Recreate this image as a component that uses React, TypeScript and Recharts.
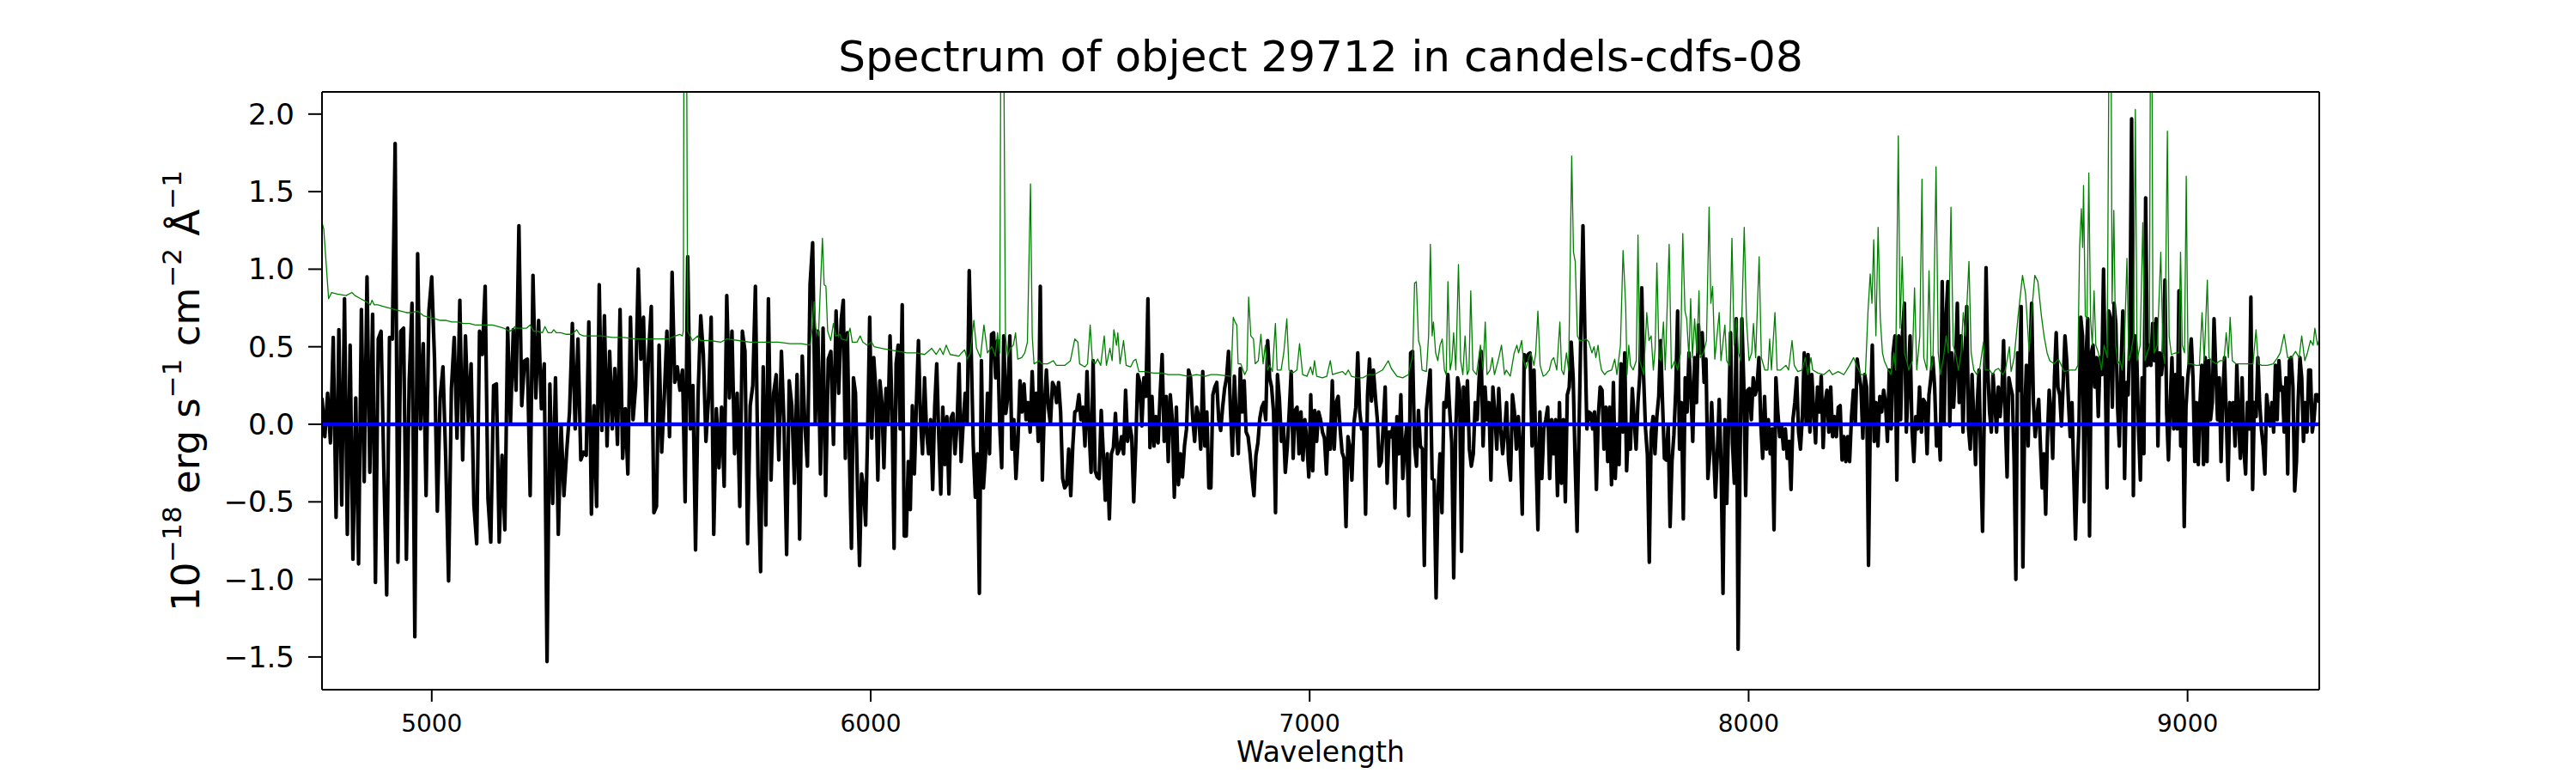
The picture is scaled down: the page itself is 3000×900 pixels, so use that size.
import React from 'react';
import { LineChart, Line, XAxis, YAxis, ReferenceLine } from 'recharts';

const FONT = '"DejaVu Sans", "Liberation Sans", sans-serif';
const CHART_W = 3000;
const CHART_H = 900;
const PLOT_LEFT = 375;
const PLOT_TOP = 107;
const PLOT_RIGHT = 2701;
const PLOT_BOTTOM = 803;
const PLOT_CX = (PLOT_LEFT + PLOT_RIGHT) / 2;
const PLOT_CY = (PLOT_TOP + PLOT_BOTTOM) / 2;

const TITLE = 'Spectrum of object 29712 in candels-cdfs-08';
const X_LABEL = 'Wavelength';
const X_DOMAIN = [4750, 9300];
const Y_DOMAIN = [-1.711, 2.143];
const X_TICKS = [5000, 6000, 7000, 8000, 9000];
const Y_TICKS = [-1.5, -1, -0.5, 0, 0.5, 1, 1.5, 2];
const ZERO_LEVEL = 0;

// Flux (black), read segment by segment, evenly sampled within each wavelength range
const FLUX_4750_5346 = [
  0.17, -0.08, 0.2, -0.12, 0.56, -0.6, 0.61, -0.52, 0.81, -0.71, 0.51, -0.87, 0.17, -0.9, 0.74, -0.37, 0.95, -0.31, 0.71, -1.02,
  0.55, 0.6, -0.31, -1.1, 0.56, 0.55, 1.81, -0.89, 0.6, 0.62, -0.87, 0.28, 0.78, -1.37, 1.1, -0.03, 0.52, -0.46, 0.73, 0.95,
  0.42, -0.56, 0.17, 0.37, -0.23, -1.01, 0.23, 0.56, -0.09, 0.8, -0.23, 0.57, 0.02, 0.39, -0.52, -0.77, 0.6, 0.45, 0.89, -0.48,
  -0.76, 0.25, 0.26, -0.76, -0.2, -0.68, 0.62, 0, 0.61, 0.22, 1.28, 0.12, 0.41, 0.42, -0.46, 0.96, 0.17, 0.67, 0.1, 0.39,
  -1.53, 0.26, -0.51, 0.3, -0.71, 0, -0.46, -0.17, 0.08, 0.65, -0.03, 0.55, -0.23,
];
const FLUX_5346_5933 = [
  -0.18, -0.2, 0.66, -0.58, 0.12, -0.53, 0.9, -0.04, 0.7, -0.14, 0.47, -0.03, 0.36, -0.13, 0.74, -0.22, 0.1, -0.32, 0.69, 0.03,
  0.25, 1.0, 0.42, 0.69, 0, 0.47, 0.76, -0.57, -0.53, 0.51, -0.18, 0.18, 0.6, -0.08, 0.98, 0.27, 0.37, 0.22, 0.35, -0.5,
  1.08, -0.03, 0.25, -0.81, 0.2, 0.7, 0.45, -0.11, 0.17, 0.69, -0.71, 0.1, -0.28, 0.11, -0.4, 0.83, 0.17, 0.6, -0.19, 0.2,
  -0.53, 0.6, 0.47, -0.77, 0.12, 0.25, 0.89, -0.33, -0.95, 0.37, -0.65, 0.81, -0.36, 0.2, 0.32, -0.23, 0.47, 0, -0.84, 0.28,
  0.12, -0.38, 0.32, -0.74, 0.44, 0, -0.27, 0.9, 1.17, 0, 0.6, -0.32, 0.62, -0.46, 0.42, 0.47, -0.13, 0.73, 0.2,
];
const FLUX_5933_6775 = [
  0.68, 0.8, -0.22, 0.59, -0.19, -0.8, 0.3, 0.2, -0.42, -0.91, -0.32, -0.41, -0.65, -0.03, 0.69, -0.09, 0.43, 0.22, -0.36, 0.28,
  0.14, -0.28, 0.23, 0, 0.57, 0.08, -0.8, 0.39, 0.51, -0.03, 0.77, -0.72, -0.72, -0.24, -0.55, 0.12, -0.32, 0.14, 0.54, 0.03,
  -0.19, 0.3, -0.05, -0.19, 0.03, -0.42, 0.11, 0.39, -0.08, -0.45, 0.11, -0.26, 0.05, -0.45, 0.04, 0.07, -0.19, 0, 0.39, -0.24,
  0, 0.2, 0, 0.99, 0.46, -0.14, -0.47, -0.19, -1.09, 0.41, -0.41, -0.2, 0.2, -0.19, 0.58, 0.59, 0.3, 0.54, 0, -0.28,
  0.57, 0.07, 0.18, 0.57, -0.16, 0.03, -0.35, -0.11, 0.28, 0.08, 0.26, 0.03, 0.14, -0.05, 0.34, 0, 0.2, -0.11, 0.89, -0.36,
  0.11, 0.35, 0.11, 0, 0.27, 0.24, 0.14, 0.27, 0.08, -0.35, -0.41, -0.39, -0.16, -0.46, -0.14, 0.08, 0.09, 0.19, 0.03, 0.11,
  -0.14, 0.34, -0.03, -0.31, 0.41, -0.3, -0.34, -0.35, 0.09, -0.18, -0.49, -0.19, -0.61, -0.19, -0.15, 0.07, -0.19, -0.16, -0.08, -0.19,
  0.22, -0.11, 0, -0.08, -0.5, -0.14, 0.32, 0.27, -0.01, 0.3, 0.18, 0.81, -0.15, 0.18, -0.14, 0.05, -0.12, 0.19, 0.45, -0.11,
  0.18, -0.24, 0.19, 0.03, -0.47, 0.11, -0.39, -0.19, -0.34, -0.14, -0.03, 0.35, 0.3, 0.05, -0.11, 0.11, 0.05, -0.16, 0.34, -0.14,
  0.08, -0.41,
];
const FLUX_6775_7636 = [
  -0.41, 0.19, 0.24, 0.27, 0.03, -0.04, 0.11, 0.23, 0.3, 0.47, 0.09, -0.2, 0.31, 0.03, -0.19, 0.36, 0.08, 0.28, -0.05, -0.08,
  -0.19, -0.34, -0.46, -0.2, -0.12, 0.04, 0.11, 0.14, 0.03, 0.54, 0.3, 0.24, 0.08, -0.57, 0.32, 0.16, -0.11, 0, -0.31, -0.15,
  0.08, 0.34, -0.22, 0.09, 0.11, -0.19, 0.08, -0.23, 0.03, -0.11, -0.34, 0.19, -0.3, 0.09, -0.11, 0.08, 0.03, -0.05, -0.09, -0.32,
  0, -0.16, 0.28, -0.16, 0.14, 0.18, -0.03, -0.18, -0.22, -0.66, -0.08, -0.15, -0.36, 0, 0.11, 0.46, 0.08, -0.03, 0, -0.58,
  0.19, 0.42, 0.15, 0.35, 0.18, 0.03, -0.27, -0.24, -0.01, 0.24, -0.38, -0.05, -0.08, -0.01, -0.54, 0.05, -0.19, 0.19, -0.35, -0.14,
  -0.01, -0.59, 0.46, 0.47, -0.14, -0.27, 0.09, -0.14, -0.16, -0.91, 0.09, 0.23, 0.35, -0.35, -0.36, -1.12, -0.45, -0.19, -0.57, 0.14,
  0.11, 0.32, 0.08, -0.12, -0.99, -0.05, 0.3, 0.22, -0.82, 0.24, 0, 0.28, -0.16, -0.27, -0.19, 0.14, 0.03, 0.3, 0.47, -0.14,
  0.24, 0.03, 0.14, -0.36, 0.24, 0.07, -0.16, 0.23, -0.03, -0.19, -0.05, 0.14, -0.24, -0.36, 0.19, 0.08, -0.16, 0.05, -0.16, -0.58,
  0.45, 0.41, 0.45, 0.46, -0.14, 0.35, -0.19, -0.68, 0.08, -0.35, -0.03, 0.03, 0.11, -0.35, 0.03, -0.19, 0.03, -0.46, 0.14, -0.38,
  0.03, -0.5, 0.19, 0.24, 0.53, 0.3, -0.24, -0.69, -0.03, 0.65, 1.28, 0.57, -0.03,
];
const FLUX_7636_8497 = [
  0.08, 0.07, -0.03, 0.08, -0.42, 0.05, 0.24, 0.22, -0.16, 0.11, -0.24, 0.11, -0.39, 0.27, -0.35, -0.03, -0.26, 0.39, -0.05, 0.46,
  -0.3, 0, -0.16, 0.23, 0.03, -0.16, 0.14, 0.32, 0.88, 0.3, -0.03, -0.2, -0.89, -0.05, 0.05, -0.19, 0.05, 0.18, 0.54, 0.14,
  -0.22, -0.23, 0, -0.66, -0.24, -0.07, 0.22, 0.73, -0.16, 0.14, -0.61, 0.3, 0.08, 0.46, 0.22, -0.11, 0.43, 0.14, 0.64, 0.46,
  0.59, 0.27, 0.42, -0.35, -0.19, 0.14, -0.16, -0.47, -0.19, 0.16, -0.27, -1.09, 0.03, -0.51, 0.03, 0.59, -0.12, -0.38, 0.68, -1.45,
  -0.24, 0.68, 0.26, -0.46, 0.22, 0.23, 0.03, 0.3, 0.19, 0.24, 0.43, 0, -0.22, 0.18, -0.16, 0.03, -0.19, -0.03, -0.68, 0.3,
  0.08, -0.08, 0, -0.16, -0.03, -0.22, -0.11, -0.42, 0.03, 0.14, 0.3, -0.05, -0.16, 0.05, 0.46, 0, 0.45, -0.05, 0.32, 0.08,
  -0.12, 0.24, 0.08, 0.31, -0.15, 0.14, 0.22, -0.05, 0.24, -0.08, 0.05, -0.08, 0.11, 0.12, -0.23, -0.08, -0.24, -0.08, -0.24, 0.05,
  0.22, 0, 0.42, 0.32, 0.24, -0.09, 0.32, 0.24, -0.91, 0.08, 0.51, -0.11, 0.14, -0.14, 0.18, 0.08, 0.22, 0.14, -0.11, 0.35,
  -0.03, 0.46, 0.57, -0.36, 0.57, 0.03, 0.59, 0.78, -0.05, 0.24, 0.57, -0.03, -0.24, 0.05, -0.03, 0.24, -0.05, 0.16, 0.14, -0.19,
  0.19, 0.3, 0.43, 0.24, -0.14, 0, -0.23, 0.92, 0, 0.68, 0.92, -0.01, 0.46, 0.11, 0.35, 0.78, 0.14, 0.57, -0.05, 0.43,
];
const FLUX_8497_9300 = [
  0.76, -0.03, -0.16, 0.32, 0.03, -0.26, 0.14, 0.35, -0.24, -0.69, 0.08, 1.01, 0.35, 0.08, -0.05, 0.32, 0.14, -0.05, 0.24, 0.05,
  0.19, 0.54, 0.03, -0.34, 0.3, 0.24, 0.19, -0.24, -1.0, 0.46, 0.22, 0.76, -0.92, 0.05, 0.38, -0.14, 0.41, 0.78, 0.14, -0.08,
  0.05, 0.16, -0.14, -0.41, -0.19, -0.58, -0.08, 0.22, 0.08, -0.22, 0.3, 0.59, 0.24, 0.19, -0.01, 0.27, 0.57, 0.41, 0.14, -0.08,
  0.14, -0.32, -0.74, -0.32, 0, 0.69, 0.57, -0.5, 0.43, 0.68, -0.72, 0.46, 0.51, 0.24, 0.43, 0.05, 0.43, 0.32, 1.0, 0.3,
  -0.41, 0.73, 0.68, 0.11, 0.78, 0.65, 0.11, -0.14, 0.38, 0.73, -0.35, 0.27, 0.19, 0.57, 1.97, -0.46, 0.57, 0.41, -0.05, -0.36,
  0.3, -0.19, 1.46, 0.38, 0.51, 0.38, 0.65, 0.41, 0.68, -0.14, 0.46, 0.32, 0.43, 0.93, 0.08, -0.23, 0.14, 0.43, -0.03, 0.32,
  -0.03, 0.86, -0.14, 0.3, -0.66, 0.11, 0.3, 0.41, 0.55, 0.3, -0.24, 0.14, -0.26, 0.14, 0.38, -0.26, 0.43, -0.24, 0.41, 0.03,
  0.14, 0.68, 0.35, 0.03, 0.3, -0.24, 0.19, 0.43, 0.05, -0.36, 0.14, 0.03, 0.14, -0.14, 0.38, 0.03, -0.22, 0.3, -0.16, -0.32,
  0.14, -0.03, 0.82, -0.42, 0.14, 0.05, 0.43, 0.14, -0.03, -0.14, -0.32, 0.19, 0.08, -0.01, 0.14, -0.05, 0.38, 0.03, 0.41, 0.22,
  0.24, -0.05, 0.3, -0.32, 0.41, 0.43, 0.24, -0.43, -0.24, 0.16, 0.43, 0.3, -0.11, 0.14, -0.05, 0.35, 0.35, -0.05, 0.03, 0.19,
  0.19, 0.14,
];

const FLUX_SEGMENTS = [
  { start: 4750, end: 5346, values: FLUX_4750_5346 },
  { start: 5346, end: 5933, values: FLUX_5346_5933 },
  { start: 5933, end: 6775, values: FLUX_5933_6775 },
  { start: 6775, end: 7636, values: FLUX_6775_7636 },
  { start: 7636, end: 8497, values: FLUX_7636_8497 },
  { start: 8497, end: 9300, values: FLUX_8497_9300 },
];

// Error / sky spectrum (green): [wavelength, value]
const ERR_4750_5346 = [
  [4750, 1.3], [4754, 1.26], [4765, 0.81], [4772, 0.85], [4785, 0.84], [4805, 0.83], [4818, 0.85], [4825, 0.83], [4838, 0.81],
  [4851, 0.79], [4860, 0.77], [4864, 0.8], [4869, 0.77], [4877, 0.77], [4890, 0.76], [4903, 0.75], [4916, 0.74], [4929, 0.73],
  [4942, 0.72], [4955, 0.72], [4968, 0.73], [4981, 0.7], [4994, 0.69], [5007, 0.68], [5020, 0.67], [5033, 0.67], [5046, 0.66],
  [5059, 0.66], [5072, 0.65], [5086, 0.65], [5099, 0.64], [5112, 0.64], [5125, 0.64], [5138, 0.64], [5151, 0.63], [5164, 0.62],
  [5177, 0.6], [5185, 0.61], [5189, 0.63], [5193, 0.62], [5203, 0.62], [5216, 0.62], [5224, 0.64], [5232, 0.6], [5242, 0.6],
  [5252, 0.59], [5258, 0.63], [5265, 0.59], [5273, 0.59], [5278, 0.61], [5284, 0.59], [5294, 0.59], [5307, 0.58], [5320, 0.58],
  [5330, 0.61], [5337, 0.58], [5346, 0.57],
];
const ERR_5346_5933 = [
  [5359, 0.57], [5385, 0.57], [5412, 0.56], [5438, 0.56], [5464, 0.55], [5490, 0.55], [5516, 0.55], [5539, 0.55], [5555, 0.57],
  [5565, 0.58], [5571, 0.57], [5573, 0.6], [5575, 3], [5580, 3], [5583, 0.6], [5594, 0.54], [5606, 0.57], [5611, 0.54],
  [5633, 0.54], [5659, 0.53], [5672, 0.55], [5699, 0.54], [5725, 0.53], [5751, 0.53], [5764, 0.53], [5790, 0.53], [5816, 0.52],
  [5842, 0.52], [5862, 0.51], [5867, 0.62], [5871, 0.79], [5875, 0.62], [5881, 0.57], [5890, 1.2], [5894, 0.9], [5898, 0.89],
  [5902, 0.6], [5909, 0.54], [5915, 0.65], [5920, 0.57],
];
const ERR_5933_6775 = [
  [5930, 0.58], [5933, 0.55], [5945, 0.54], [5953, 0.62], [5958, 0.53], [5969, 0.53], [5976, 0.57], [5982, 0.53], [5992, 0.51],
  [6002, 0.53], [6008, 0.5], [6025, 0.49], [6044, 0.48], [6064, 0.47], [6083, 0.46], [6103, 0.46], [6123, 0.45], [6139, 0.49],
  [6149, 0.45], [6158, 0.49], [6165, 0.45], [6172, 0.51], [6181, 0.45], [6201, 0.44], [6207, 0.46], [6214, 0.48], [6220, 0.42],
  [6227, 0.46], [6235, 0.67], [6241, 0.49], [6250, 0.43], [6258, 0.64], [6266, 0.46], [6276, 0.5], [6284, 0.44], [6289, 0.59],
  [6294, 0.46], [6297, 3], [6302, 3], [6307, 0.57], [6312, 0.44], [6318, 0.49], [6325, 0.51], [6330, 0.59], [6335, 0.42],
  [6344, 0.43], [6351, 0.46], [6357, 0.53], [6364, 1.55], [6368, 0.57], [6372, 0.39], [6384, 0.41], [6390, 0.39], [6403, 0.39],
  [6416, 0.41], [6423, 0.38], [6442, 0.38], [6455, 0.41], [6465, 0.55], [6472, 0.53], [6476, 0.39], [6488, 0.37], [6494, 0.39],
  [6500, 0.64], [6505, 0.41], [6511, 0.39], [6517, 0.42], [6524, 0.38], [6532, 0.57], [6537, 0.38], [6545, 0.49], [6550, 0.41],
  [6554, 0.61], [6560, 0.51], [6563, 0.59], [6568, 0.39], [6576, 0.54], [6582, 0.38], [6592, 0.37], [6599, 0.41], [6604, 0.42],
  [6611, 0.34], [6625, 0.34], [6644, 0.33], [6664, 0.33], [6677, 0.32], [6703, 0.32], [6723, 0.31], [6742, 0.32], [6762, 0.31],
];
const ERR_6775_7636 = [
  [6775, 0.32], [6788, 0.32], [6821, 0.31], [6826, 0.69], [6830, 0.66], [6834, 0.64], [6837, 0.39], [6843, 0.39], [6852, 0.32],
  [6857, 0.35], [6861, 0.82], [6866, 0.57], [6872, 0.55], [6876, 0.39], [6883, 0.41], [6889, 0.58], [6894, 0.39], [6899, 0.51],
  [6904, 0.35], [6909, 0.38], [6915, 0.34], [6922, 0.65], [6926, 0.35], [6935, 0.35], [6941, 0.46], [6948, 0.68], [6953, 0.35],
  [6961, 0.33], [6971, 0.35], [6977, 0.52], [6984, 0.32], [6994, 0.31], [7002, 0.37], [7007, 0.32], [7011, 0.41], [7016, 0.31],
  [7029, 0.3], [7039, 0.31], [7047, 0.41], [7052, 0.32], [7062, 0.33], [7075, 0.34], [7082, 0.32], [7088, 0.35], [7095, 0.31],
  [7108, 0.3], [7121, 0.3], [7134, 0.32], [7147, 0.32], [7166, 0.35], [7179, 0.41], [7186, 0.36], [7199, 0.31], [7212, 0.3],
  [7225, 0.32], [7235, 0.45], [7239, 0.91], [7243, 0.92], [7248, 0.54], [7252, 0.5], [7256, 0.35], [7266, 0.34], [7271, 0.57],
  [7275, 1.16], [7279, 0.57], [7282, 0.66], [7287, 0.46], [7292, 0.41], [7297, 0.51], [7302, 0.55], [7307, 0.35], [7311, 0.32],
  [7315, 0.92], [7320, 0.35], [7324, 0.41], [7328, 0.59], [7333, 0.35], [7339, 1.03], [7344, 0.41], [7349, 0.32], [7354, 0.57],
  [7359, 0.32], [7363, 0.35], [7367, 0.86], [7372, 0.35], [7380, 0.32], [7389, 0.51], [7395, 0.35], [7400, 0.66], [7404, 0.32],
  [7411, 0.35], [7416, 0.43], [7421, 0.32], [7431, 0.43], [7437, 0.51], [7444, 0.32], [7448, 0.35], [7457, 0.31], [7466, 0.46],
  [7472, 0.51], [7476, 0.46], [7483, 0.54], [7487, 0.41], [7493, 0.36], [7499, 0.43], [7504, 0.46], [7511, 0.38], [7515, 0.46],
  [7520, 0.73], [7525, 0.38], [7532, 0.31], [7538, 0.32], [7546, 0.35], [7551, 0.41], [7556, 0.43], [7563, 0.35], [7570, 0.66],
  [7574, 0.35], [7579, 0.32], [7585, 0.46], [7590, 0.35], [7597, 1.73], [7601, 1.11], [7605, 1.05], [7610, 0.57], [7615, 0.54],
  [7623, 0.54], [7630, 0.55],
];
const ERR_7636_8497 = [
  [7636, 0.53], [7643, 0.46], [7648, 0.5], [7652, 0.43], [7657, 0.51], [7661, 0.41], [7665, 0.35], [7672, 0.32], [7678, 0.34],
  [7688, 0.35], [7695, 0.42], [7700, 0.32], [7708, 0.51], [7714, 1.12], [7720, 0.76], [7723, 0.32], [7727, 0.51], [7731, 0.38],
  [7737, 0.35], [7744, 0.41], [7748, 1.22], [7752, 0.41], [7761, 0.32], [7768, 0.72], [7773, 0.54], [7778, 0.57], [7783, 0.35],
  [7787, 0.49], [7791, 1.04], [7796, 0.43], [7800, 0.41], [7806, 0.66], [7810, 0.35], [7819, 1.16], [7824, 0.36], [7832, 0.41],
  [7838, 0.35], [7845, 0.46], [7850, 1.23], [7855, 0.73], [7859, 0.68], [7864, 0.43], [7868, 0.81], [7872, 0.43], [7877, 0.68],
  [7882, 0.46], [7887, 0.86], [7890, 0.43], [7897, 0.46], [7904, 0.54], [7910, 1.4], [7914, 0.78], [7918, 0.89], [7923, 0.42],
  [7928, 0.57], [7933, 0.72], [7937, 0.41], [7946, 0.64], [7950, 0.41], [7956, 0.38], [7962, 1.2], [7967, 0.51], [7972, 0.68],
  [7977, 0.46], [7982, 0.41], [7990, 1.27], [7995, 0.68], [8001, 0.41], [8007, 0.46], [8011, 0.65], [8016, 0.43], [8024, 1.08],
  [8029, 0.43], [8037, 0.35], [8044, 0.35], [8048, 0.55], [8052, 0.35], [8060, 0.72], [8065, 0.35], [8073, 0.35], [8085, 0.38],
  [8091, 0.35], [8099, 0.54], [8104, 0.38], [8112, 0.34], [8122, 0.35], [8129, 0.43], [8135, 0.32], [8142, 0.43], [8146, 0.35],
  [8158, 0.33], [8171, 0.32], [8184, 0.35], [8191, 0.32], [8204, 0.34], [8217, 0.32], [8230, 0.38], [8239, 0.43], [8246, 0.38],
  [8256, 0.32], [8266, 0.32], [8272, 0.73], [8277, 0.97], [8281, 0.78], [8285, 1.19], [8290, 0.57], [8295, 1.27], [8300, 0.68],
  [8305, 0.46], [8309, 0.41], [8318, 0.35], [8324, 0.32], [8331, 0.46], [8335, 0.35], [8341, 1.86], [8345, 0.62], [8350, 1.08],
  [8355, 0.46], [8360, 0.41], [8365, 0.35], [8373, 0.41], [8378, 0.88], [8383, 0.35], [8390, 0.57], [8395, 1.58], [8399, 0.43],
  [8406, 0.35], [8411, 0.99], [8416, 0.35], [8420, 0.41], [8427, 1.66], [8432, 0.46], [8437, 0.32], [8444, 0.43], [8450, 0.57],
  [8455, 0.46], [8461, 1.4], [8466, 0.51], [8471, 0.46], [8478, 0.35], [8484, 0.46], [8489, 0.72], [8494, 0.57],
];
const ERR_8497_9300 = [
  [8502, 1.05], [8507, 0.46], [8513, 0.35], [8520, 0.32], [8526, 0.35], [8535, 0.53], [8539, 0.35], [8549, 0.35], [8556, 0.32],
  [8562, 0.35], [8569, 0.36], [8579, 0.32], [8585, 0.35], [8594, 0.5], [8598, 0.34], [8605, 0.43], [8614, 0.7], [8624, 0.96],
  [8631, 0.84], [8639, 0.47], [8646, 0.76], [8652, 0.96], [8659, 0.92], [8667, 0.7], [8673, 0.57], [8680, 0.46], [8686, 0.41],
  [8696, 0.39], [8706, 0.42], [8719, 0.34], [8732, 0.35], [8745, 0.35], [8750, 0.38], [8754, 1.14], [8758, 1.39], [8761, 1.14],
  [8763, 1.54], [8767, 0.7], [8771, 0.68], [8775, 1.62], [8779, 0.68], [8783, 0.51], [8787, 0.86], [8791, 0.51], [8797, 0.46],
  [8804, 0.35], [8810, 0.51], [8817, 0.43], [8822, 3], [8825, 3], [8828, 0.78], [8832, 1.38], [8836, 0.51], [8841, 0.39],
  [8846, 0.41], [8851, 0.35], [8856, 0.51], [8862, 1.07], [8866, 0.41], [8871, 0.46], [8877, 0.57], [8881, 2.03], [8885, 0.41],
  [8892, 0.51], [8898, 1.3], [8903, 0.41], [8908, 0.46], [8913, 0.5], [8916, 3], [8918, 3], [8921, 0.7], [8924, 0.46],
  [8931, 0.51], [8939, 1.11], [8944, 0.46], [8948, 0.39], [8954, 1.89], [8958, 0.57], [8963, 0.45], [8973, 0.46], [8980, 0.46],
  [8984, 1.11], [8988, 0.51], [8993, 0.46], [8997, 1.6], [9001, 0.39], [9009, 0.39], [9019, 0.38], [9027, 0.38], [9033, 0.72],
  [9038, 0.41], [9045, 0.93], [9049, 0.43], [9055, 0.41], [9065, 0.39], [9074, 0.41], [9083, 0.41], [9088, 0.59], [9093, 0.43],
  [9097, 0.69], [9102, 0.41], [9110, 0.39], [9120, 0.39], [9130, 0.39], [9140, 0.39], [9149, 0.39], [9156, 0.61], [9161, 0.39],
  [9169, 0.38], [9182, 0.38], [9195, 0.39], [9205, 0.43], [9211, 0.46], [9220, 0.58], [9228, 0.43], [9237, 0.43], [9246, 0.47],
  [9254, 0.43], [9260, 0.57], [9267, 0.41], [9273, 0.46], [9280, 0.54], [9286, 0.51], [9290, 0.62], [9296, 0.51], [9300, 0.55],
];

const ERR_SEGMENTS = [ERR_4750_5346, ERR_5346_5933, ERR_5933_6775, ERR_6775_7636, ERR_7636_8497, ERR_8497_9300];

const fluxData = (() => {
  const out: { w: number; f: number }[] = [];
  FLUX_SEGMENTS.forEach((seg, k) => {
    const n = seg.values.length;
    const last = k === FLUX_SEGMENTS.length - 1;
    const step = (seg.end - seg.start) / (last ? n - 1 : n);
    seg.values.forEach((v, i) => out.push({ w: seg.start + i * step, f: v }));
  });
  return out;
})();

const errData = ERR_SEGMENTS.flat().map(([w, f]) => ({ w, f }));

const fmtY = (v: number) => v.toFixed(1).replace('-', '\u2212');

const TitleLabel = () => (
  <text x={PLOT_CX} y={83} textAnchor="middle" fontFamily={FONT} fontSize={50} fill="#000">
    {TITLE}
  </text>
);

const XTitle = () => (
  <text x={PLOT_CX} y={887} textAnchor="middle" fontFamily={FONT} fontSize={33} fill="#000">
    {X_LABEL}
  </text>
);

const YTitle = () => {
  const x = 232;
  const y = PLOT_CY;
  const sup = 31;
  const up = -21;
  return (
    <text
      x={x}
      y={y}
      transform={`rotate(-90 ${x} ${y})`}
      textAnchor="middle"
      fontFamily={FONT}
      fontSize={45}
      fill="#000"
    >
      <tspan>10</tspan>
      <tspan fontSize={sup} dy={up}>{'\u221218'}</tspan>
      <tspan dy={-up}>{' erg s'}</tspan>
      <tspan fontSize={sup} dy={up}>{'\u22121'}</tspan>
      <tspan dy={-up}>{' cm'}</tspan>
      <tspan fontSize={sup} dy={up}>{'\u22122'}</tspan>
      <tspan dy={-up}>{' \u00C5'}</tspan>
      <tspan fontSize={sup} dy={up}>{'\u22121'}</tspan>
    </text>
  );
};

const axisStroke = { stroke: '#000', strokeWidth: 2 };

export default function App() {
  return (
    <div style={{ position: 'absolute', left: 0, top: 0, width: CHART_W, height: CHART_H, background: '#fff' }}>
      <LineChart
        width={CHART_W}
        height={CHART_H}
        margin={{ top: PLOT_TOP - 1, right: CHART_W - PLOT_RIGHT - 1, bottom: 0, left: 0 }}
      >
        <XAxis
          xAxisId="b"
          type="number"
          dataKey="w"
          domain={X_DOMAIN}
          ticks={X_TICKS}
          interval={0}
          allowDataOverflow
          height={CHART_H - PLOT_BOTTOM}
          tickSize={14}
          tickMargin={15}
          axisLine={axisStroke}
          tickLine={axisStroke}
          tick={{ fill: '#000', fontSize: 28, fontFamily: FONT }}
          label={XTitle}
        />
        <XAxis
          xAxisId="t"
          orientation="top"
          type="number"
          dataKey="w"
          domain={X_DOMAIN}
          allowDataOverflow
          height={1}
          tick={false}
          tickLine={false}
          axisLine={axisStroke}
          label={TitleLabel}
        />
        <YAxis
          yAxisId="l"
          type="number"
          domain={Y_DOMAIN}
          ticks={Y_TICKS}
          interval={0}
          allowDataOverflow
          width={PLOT_LEFT}
          tickSize={16}
          tickMargin={16}
          tickFormatter={fmtY}
          axisLine={axisStroke}
          tickLine={axisStroke}
          tick={{ fill: '#000', fontSize: 34, fontFamily: FONT }}
          label={YTitle}
        />
        <YAxis
          yAxisId="r"
          orientation="right"
          type="number"
          domain={Y_DOMAIN}
          allowDataOverflow
          width={1}
          tick={false}
          tickLine={false}
          axisLine={axisStroke}
        />
        <Line
          xAxisId="b"
          yAxisId="l"
          data={fluxData}
          dataKey="f"
          type="linear"
          stroke="#000000"
          strokeWidth={4.2}
          strokeLinejoin="round"
          dot={false}
          activeDot={false}
          isAnimationActive={false}
        />
        <Line
          xAxisId="b"
          yAxisId="l"
          data={errData}
          dataKey="f"
          type="linear"
          stroke="#008000"
          strokeWidth={1.3}
          strokeLinejoin="round"
          dot={false}
          activeDot={false}
          isAnimationActive={false}
        />
        <ReferenceLine xAxisId="b" yAxisId="l" y={ZERO_LEVEL} stroke="#0000ff" strokeWidth={4.5} />
      </LineChart>
    </div>
  );
}
